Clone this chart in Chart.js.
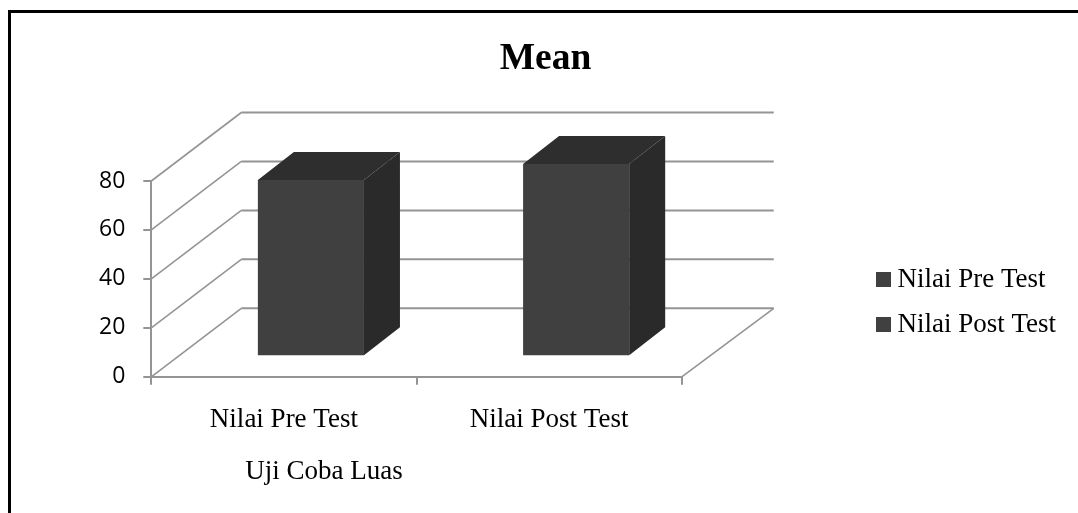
<!DOCTYPE html>
<html>
<head>
    <title>Mean</title>
    <style>
        body { margin: 0; background: #fff; overflow: hidden; }
        #chart { display: block; position: absolute; left: 0; top: 0; }
        #frame {
            position: absolute;
            left: 8px;
            top: 10px;
            right: 0;
            bottom: 0;
            border-left: 3px solid #000;
            border-top: 3px solid #000;
            pointer-events: none;
        }
    </style>
    <script src="https://cdn.jsdelivr.net/npm/chart.js"></script>
</head>
<body>
    <canvas id="chart" width="1078" height="513"></canvas>
    <div id="frame"></div>
    <script>
        const categories = ['Nilai Pre Test', 'Nilai Post Test'];
        const preTestValues = [72, null];
        const postTestValues = [null, 78.6];
        const seriesNames = ['Nilai Pre Test', 'Nilai Post Test'];
        const axisMax = 80;
        const axisStep = 20;
        const chartTitle = 'Mean';
        const xAxisTitle = 'Uji Coba Luas';

        const gridColor = '#949494';
        const frontColor = '#404040';
        const topColor = '#2e2e2e';
        const sideColor = '#2a2a2a';
        const serifFont = "'Liberation Serif', serif";

        // fake 3D: the walls and the box sides are sheared off the real scales
        const box3d = {
            id: 'box3d',
            afterLayout(chart) {
                const title = chart.titleBlock;
                const w = title.right - title.left;
                title.left = 545.5 - w / 2;
                title.right = title.left + w;
                const legend = chart.legend;
                const h = legend.bottom - legend.top;
                legend.left = 865;
                legend.right = legend.left + legend.width;
                legend.top = 75;
                legend.bottom = legend.top + h;
            },
            beforeDatasetsDraw(chart) {
                const { ctx, chartArea, scales } = chart;
                const backLeft = chartArea.left + 90;
                const backRight = chartArea.right + 92;
                ctx.save();
                ctx.strokeStyle = gridColor;
                scales.y.ticks.forEach(tick => {
                    const y = scales.y.getPixelForValue(tick.value);
                    ctx.lineWidth = 1.6;
                    ctx.beginPath();
                    ctx.moveTo(chartArea.left, y);
                    ctx.lineTo(backLeft, y - 68.5);
                    ctx.stroke();
                    ctx.lineWidth = 2;
                    ctx.beginPath();
                    ctx.moveTo(backLeft, y - 68.5);
                    ctx.lineTo(backRight, y - 68.5);
                    ctx.stroke();
                });
                ctx.lineWidth = 1.6;
                ctx.beginPath();
                ctx.moveTo(chartArea.right, chartArea.bottom);
                ctx.lineTo(backRight, chartArea.bottom - 68.5);
                ctx.stroke();
                ctx.fillStyle = '#000';
                ctx.font = '27px ' + serifFont;
                ctx.textBaseline = 'middle';
                ctx.fillText(xAxisTitle, chartArea.left + 94, 472);
                ctx.restore();
            },
            beforeDatasetDraw(chart) {
                chart.ctx.save();
                chart.ctx.translate(27, -20.5);
            },
            afterDatasetDraw(chart, args) {
                const ctx = chart.ctx;
                const values = chart.data.datasets[args.index].data;
                args.meta.data.forEach((bar, i) => {
                    if (values[i] === null) return;
                    const r = bar.x + bar.width / 2;
                    const l = bar.x - bar.width / 2;
                    ctx.fillStyle = sideColor;
                    ctx.beginPath();
                    ctx.moveTo(r, bar.y);
                    ctx.lineTo(r + 36, bar.y - 28);
                    ctx.lineTo(r + 36, bar.base - 28);
                    ctx.lineTo(r, bar.base);
                    ctx.closePath();
                    ctx.fill();
                    ctx.fillStyle = topColor;
                    ctx.beginPath();
                    ctx.moveTo(l, bar.y);
                    ctx.lineTo(l + 36, bar.y - 28);
                    ctx.lineTo(r + 36, bar.y - 28);
                    ctx.lineTo(r, bar.y);
                    ctx.closePath();
                    ctx.fill();
                });
                ctx.restore();
            }
        };

        new Chart(document.getElementById('chart'), {
            type: 'bar',
            data: {
                labels: categories,
                datasets: [
                    { label: seriesNames[0], data: preTestValues, backgroundColor: frontColor, barPercentage: 1, categoryPercentage: 0.4 },
                    { label: seriesNames[1], data: postTestValues, backgroundColor: frontColor, barPercentage: 1, categoryPercentage: 0.4 }
                ]
            },
            options: {
                responsive: false,
                animation: false,
                layout: { padding: { left: 81, right: 196, top: 0, bottom: 58.8 } },
                scales: {
                    x: {
                        stacked: true,
                        grid: { drawOnChartArea: false, color: gridColor, lineWidth: 2, tickLength: 8 },
                        border: { color: gridColor, width: 2 },
                        ticks: { color: '#000', padding: 18.5, font: { family: serifFont, size: 27 }, maxRotation: 0 }
                    },
                    y: {
                        stacked: true,
                        min: 0,
                        max: axisMax,
                        grid: { drawOnChartArea: false, color: gridColor, lineWidth: 2, tickLength: 8 },
                        border: { color: gridColor, width: 2 },
                        ticks: { stepSize: axisStep, color: '#000', padding: 18, font: { family: "'Open Sans'", size: 23 } }
                    }
                },
                plugins: {
                    title: {
                        display: true,
                        text: chartTitle,
                        color: '#000',
                        font: { family: serifFont, size: 37.5, weight: 'bold' },
                        padding: { top: 37, bottom: 99 }
                    },
                    legend: {
                        position: 'right',
                        labels: {
                            color: '#000',
                            boxWidth: 1,
                            boxHeight: 1,
                            padding: 18,
                            font: { family: serifFont, size: 27 },
                            // thick stroke around a tiny box keeps the swatch close to the text
                            generateLabels(chart) {
                                return Chart.defaults.plugins.legend.labels.generateLabels(chart)
                                    .map(item => ({ ...item, lineWidth: 14, strokeStyle: item.fillStyle }));
                            }
                        }
                    },
                    tooltip: { enabled: false }
                }
            },
            plugins: [box3d]
        });
    </script>
</body>
</html>
